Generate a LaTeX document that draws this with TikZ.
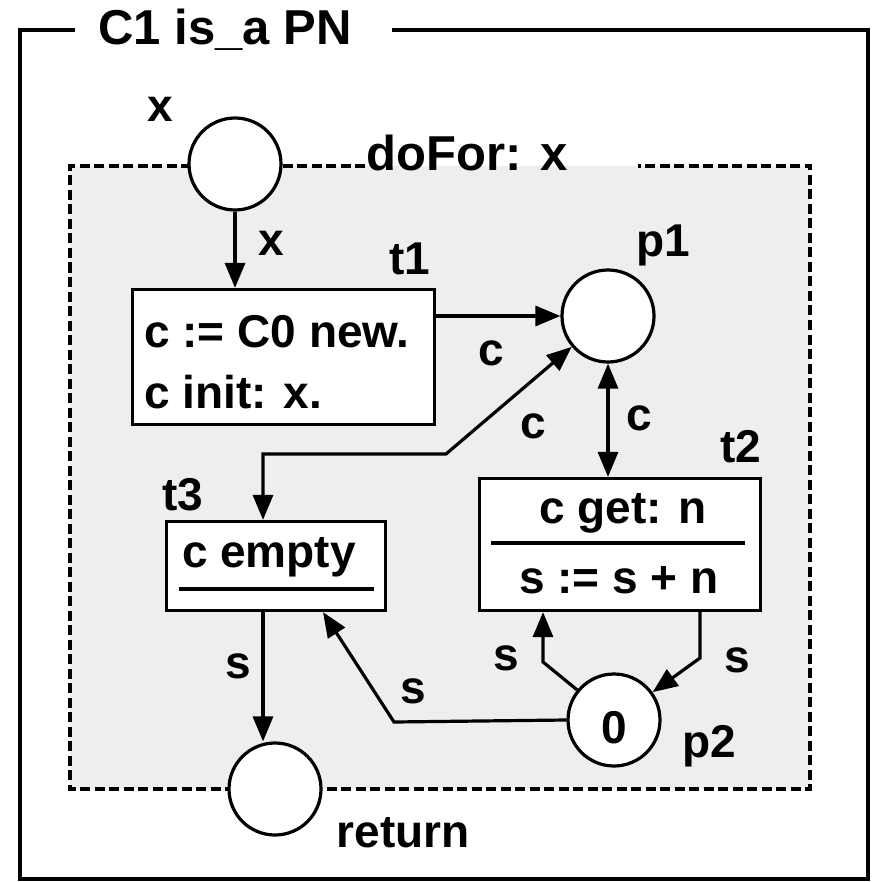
\documentclass[tikz,border=0pt]{standalone}
\usepackage{fontspec}
\setmainfont{Liberation Sans}
\usetikzlibrary{arrows.meta,calc}
\definecolor{bg}{HTML}{EEEEEE}
\begin{document}
\begin{tikzpicture}[x=1pt,y=-1pt,
  lw/.style={line width=3.2pt},
  place/.style={circle,draw,lw,fill=white,minimum size=92pt,inner sep=0pt},
  trans/.style={rectangle,draw,lw,fill=white,inner sep=0pt},
  lab/.style={font=\fontsize{46pt}{50pt}\bfseries\selectfont,inner sep=0pt,anchor=base},
  big/.style={font=\fontsize{49pt}{52pt}\bfseries\selectfont},
  arc/.style={lw,-{Triangle[length=25pt,width=20pt]}},
  arcb/.style={lw,{Triangle[length=25pt,width=20pt]}-{Triangle[length=25pt,width=20pt]}},
  dline/.style={lw,dash pattern=on 10pt off 4.5pt}]
\useasboundingbox (0,0) rectangle (873,882);
% outer frame
\draw[lw] (75,30) -- (20,30) -- (20,879) -- (868,879) -- (868,30) -- (392,30);
\node[lab,big] (title) at (225,45) {C1 is\_a PN};
% doFor region
\fill[bg] (70,166) rectangle (810,789);
\draw[dline] (365,166) -- (70,166) -- (70,789) -- (810,789) -- (810,166) -- (638,166);
\node[lab,big] (ldo) at (467,171) {doFor: x};
% places
\node[place] (px) at (235,164) {};
\node[place] (p1) at (608,316) {};
\node[place] (p2) at (614,720) {};
\node[place] (pr) at (275,789) {};
% transitions
\node[trans,minimum width=302pt,minimum height=135pt] (t1) at (283.5,357) {};
\node[trans,minimum width=281pt,minimum height=132pt] (t2) at (620,544.5) {};
\node[trans,minimum width=219pt,minimum height=89pt] (t3) at (276,566) {};
% texts
\node[lab] (lx) at (160,122) {x};
\node[lab] (lt1) at (410,275) {t1};
\node[lab] (lp1) at (663,257) {p1};
\node[lab,anchor=base west] (t1a) at (144,347) {c := C0 new.};
\node[lab,anchor=base west] (t1b) at (144,408) {c init: x.};
\node[lab] (lxe) at (271,255) {x};
\node[lab] (lc1) at (491,365) {c};
\node[lab] (lc2) at (533,438) {c};
\node[lab] (lc3) at (639,430) {c};
\node[lab] (lt2) at (741,462) {t2};
\node[lab] (lt3) at (183,510) {t3};
\node[lab] (t3a) at (269,567) {c empty};
\draw[lw] (179,589) -- (374,589);
\node[lab] (t2a) at (623,523) {c get: n};
\draw[lw] (491,543) -- (745,543);
\node[lab] (t2b) at (619,593) {s := s + n};
\node[lab] (l0) at (614,743) {0};
\node[lab] (lp2) at (709,757) {p2};
\node[lab] (ls1) at (506,670) {s};
\node[lab] (ls2) at (737,672) {s};
\node[lab] (ls3) at (413,703) {s};
\node[lab] (ls4) at (238,678) {s};
\node[lab] (lret) at (403,847) {return};
% connectors
\coordinate (k1) at (446,454);
\coordinate (k2) at (263,454);
\coordinate (k3) at (543,662);
\coordinate (k4) at (700,658);
\coordinate (k5) at (394,722);
\coordinate (k6) at (323,612);
\draw[arc] (px.south) -- (px.south |- t1.north);
\draw[arc] (p1.west -| t1.east) -- (p1.west);
\draw[arcb] (p1.south) -- (p1.south |- t2.north);
\draw[arcb] (p1) -- (k1) -- (k2) -- (k2 |- t3.north);
\draw[arc] (p2) -- (k3) -- (k3 |- t2.south);
\draw[arc] (k4 |- t2.south) -- (k4) -- (p2);
\draw[arc] (p2.west) -- (k5) -- (k6 |- t3.south);
\draw[arc] (k2 |- t3.south) -- (k2 |- pr.north);
\end{tikzpicture}
\end{document}
